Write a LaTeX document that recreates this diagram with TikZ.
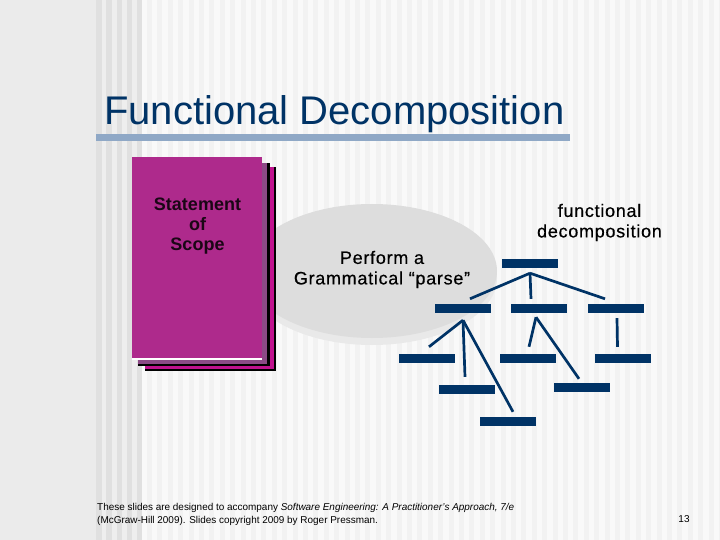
\documentclass[tikz,border=0pt]{standalone}
\usepackage{fontspec}
\setmainfont{Liberation Sans}
\newfontfamily\labfont[FakeBold=0.4,LetterSpace=4]{Liberation Sans}
\definecolor{navy}{HTML}{003366}
\definecolor{rulecol}{HTML}{8FA8C6}
\definecolor{page}{HTML}{AE2A8C}
\definecolor{pageback}{HTML}{C0128E}
\definecolor{pagemid}{HTML}{8C4A86}
\definecolor{blob}{HTML}{DDDDDD}
\definecolor{blobshade}{HTML}{E9E9E9}
\tikzset{
  bar/.style={rectangle, fill=navy, inner sep=0pt, minimum width=56pt, minimum height=9pt},
  link/.style={draw=navy, line width=2.7pt},
  lab/.style={align=center, text=black, font=\fontsize{18}{20.5}\labfont},
  scopelab/.style={align=center, text=black!85!page, font=\fontsize{18}{19.7}\selectfont\bfseries},
  foot/.style={align=left, text=black, font=\fontsize{9.95}{12.7}\selectfont}
}
\begin{document}
\begin{tikzpicture}[x=1pt,y=-1pt]
  \useasboundingbox (0,0) rectangle (720,540);
  % background stripes
  \fill[black!8] (0,0) rectangle (96,540);
  \fill[black!6.5] (96,0) rectangle (142,540);
  \foreach \i in {0,...,4} \fill[black!12] ({96+10.3*\i},0) rectangle ({101.5+10.3*\i},540);
  \fill[black!2.5] (142,0) rectangle (720,540);
  \foreach \i in {0,...,55} \fill[black!5] ({147+10.4*\i},0) rectangle ({152+10.4*\i},540);

  % title
  \node[anchor=base west, inner sep=0pt, text=navy, font=\fontsize{40}{42}\selectfont] (title) at (104,124.5) {Functional Decomposition};
  \fill[rulecol] (96,134) rectangle (570,141);

  % parse blob
  \fill[blobshade] (372,278) ellipse (125 and 67);
  \fill[blob] (372,271) ellipse (125 and 67);

  % book
  \fill[black] (145,167) rectangle (276,371);
  \fill[pageback] (145,167) rectangle (274,368.5);
  \fill[black] (138,163) rectangle (269.5,366);
  \fill[pagemid] (138,163) rectangle (267,363.5);
  \fill[white] (132,357) rectangle (262,359.5);
  \fill[page] (132,157) rectangle (262,358);
  \node[scopelab] (scope) at (197.5,226) {Statement\\of\\Scope};

  \node[lab] (parse) at (382,269.5) {Perform a\\Grammatical “parse”};
  \node[lab] (fd) at (599.5,222.5) {functional\\decomposition};

  % tree
  \node[bar] (top) at (530,263.5) {};
  \node[bar] (mida) at (463,308.5) {};
  \node[bar] (midb) at (539,308.5) {};
  \node[bar] (midc) at (616,308.5) {};
  \node[bar] (lowa) at (427,358.5) {};
  \node[bar] (lowb) at (467,389.5) {};
  \node[bar] (lowc) at (508,421.5) {};
  \node[bar] (lowd) at (528,358.5) {};
  \node[bar] (lowe) at (582,387.5) {};
  \node[bar] (lowf) at (622.5,358.5) {};

  \draw[link] ([yshift=-5pt]top.south) -- ([xshift=7pt,yshift=5pt]mida.north);
  \draw[link] ([yshift=-5pt]top.south) -- ([xshift=-8pt,yshift=5pt]midb.north);
  \draw[link] ([yshift=-5pt]top.south) -- ([xshift=-11pt,yshift=5pt]midc.north);
  \draw[link] ([yshift=-7pt]mida.south) -- ([xshift=2pt,yshift=7pt]lowa.north);
  \draw[link] ([yshift=-7pt]mida.south) -- ([xshift=-2pt,yshift=8pt]lowb.north);
  \draw[link] ([yshift=-7pt]mida.south) -- ([xshift=5pt,yshift=5pt]lowc.north);
  \draw[link] ([xshift=-3pt,yshift=-4pt]midb.south) -- ([xshift=1pt,yshift=7pt]lowd.north);
  \draw[link] ([xshift=-3pt,yshift=-4pt]midb.south) -- ([xshift=-3pt,yshift=4pt]lowe.north);
  \draw[link] ([xshift=1pt,yshift=-5pt]midc.south) -- ([xshift=-5pt,yshift=7pt]lowf.north);

  % footer
  \node[foot, anchor=base west, inner sep=0pt] (credit) at (97,523.5) {These slides are designed to accompany \textit{Software Engineering: A Practitioner's Approach, 7/e}\\(McGraw-Hill 2009). Slides copyright 2009 by Roger Pressman.};
  \node[anchor=base, inner sep=0pt, font=\fontsize{10}{12}\selectfont] (pageno) at (684,522) {13};
\end{tikzpicture}
\end{document}
